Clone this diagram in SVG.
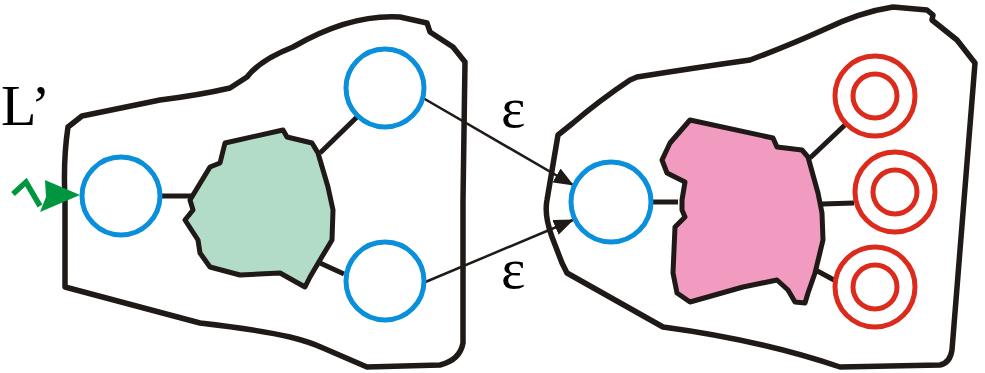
<svg xmlns="http://www.w3.org/2000/svg" width="985" height="373" viewBox="0 0 985 373">
<defs>
<style>
.outline{fill:none;stroke:#1f1a17;stroke-width:5.5;stroke-linejoin:round}
.blob{stroke:#1f1a17;stroke-width:5;stroke-linejoin:round}
.link{stroke:#1f1a17;stroke-width:5;fill:none}
.arr{stroke:#1f1a17;stroke-width:2.5;fill:none}
.blue{fill:none;stroke:#0a8fdb;stroke-width:5}
.red{fill:none;stroke:#dc2a1c;stroke-width:5}
.lbl{font-family:"Liberation Serif","Times New Roman",serif;fill:#000}
</style>
<marker id="ah" markerWidth="20" markerHeight="16" viewBox="0 0 20 16" refX="19" refY="8" orient="auto" markerUnits="userSpaceOnUse">
<path d="M0,0 L20,8 L0,16 Z" fill="#1f1a17"/>
</marker>
</defs>
<rect width="985" height="373" fill="#fff"/>
<g id="left-region">
<path class="outline" d="M82,116 L68,127 Q63,160 65,200 L65,287 L200,323 Q260,330 290,337 Q310,342 323,348 L367,367 L440,365 Q460,360 463,343 L463,200 L465,62 L453,47 L430,32 L427,23 L400,17 Q350,14 293,47 Q260,60 247,77 L230,88 Q200,95 160,100 Z"/>
</g>
<g id="right-region">
<path class="outline" d="M637,77 Q700,67 750,60 Q790,45 823,30 Q860,12 893,7 L927,10 L933,15 L932,20 L957,40 L975,63 L952,350 Q950,363 940,365 L840,367 Q760,340 663,327 L567,273 L562,263 L552,237 Q544,215 547,200 L558,135 L573,123 Q600,100 630,80 Z"/>
</g>
<g id="connectors">
<line class="link" x1="160" y1="196" x2="192" y2="196"/>
<line class="link" x1="320" y1="153" x2="357" y2="117"/>
<line class="link" x1="320" y1="263" x2="344" y2="274"/>
<line class="link" x1="651" y1="202" x2="678" y2="202"/>
<line class="link" x1="810" y1="158" x2="847" y2="123"/>
<line class="link" x1="822" y1="204" x2="854" y2="203"/>
<line class="link" x1="810" y1="267" x2="834" y2="280"/>
<line class="arr" x1="423" y1="98" x2="573" y2="185" marker-end="url(#ah)"/>
<line class="arr" x1="423" y1="283" x2="573" y2="220" marker-end="url(#ah)"/>
</g>
<g id="green-component">
<path class="blob" fill="#b2dcc8" d="M225,143 L283,130 L287,137 L312,143 L318,153 L328,187 L333,210 L332,240 L320,260 L310,277 L305,287 L280,273 L240,275 L210,267 L200,253 L198,240 L185,220 L193,210 L190,200 L210,167 L220,163 Z"/>
</g>
<g id="pink-component">
<path class="blob" fill="#f09bbf" d="M690,120 L773,138 L777,147 L802,150 L808,157 L818,193 L822,213 L823,240 L815,273 L808,293 L805,303 L795,302 L788,290 L777,280 L743,287 L690,302 L677,293 L673,273 L675,227 L685,217 L682,210 L682,200 L685,182 L667,173 L662,160 L670,143 Z"/>
</g>
<g id="n-in"><circle class="blue" cx="121" cy="196" r="39"/></g>
<g id="n-out1"><circle class="blue" cx="385" cy="88" r="39"/></g>
<g id="n-out2"><circle class="blue" cx="385" cy="281" r="39"/></g>
<g id="n-in2"><circle class="blue" cx="611" cy="202" r="40"/></g>
<g id="f1"><circle class="red" cx="875" cy="96" r="40"/><circle class="red" cx="875" cy="96" r="22"/></g>
<g id="f2"><circle class="red" cx="895" cy="192" r="40"/><circle class="red" cx="895" cy="192" r="22"/></g>
<g id="f3"><circle class="red" cx="875" cy="287" r="40"/><circle class="red" cx="875" cy="287" r="22"/></g>
<g id="input-arrow">
<path d="M13,194 L26,182 L40,206" fill="none" stroke="#009640" stroke-width="5.5"/>
<path d="M45,180 L80,195 L40,212 L46,197 Z" fill="#009640"/>
</g>
<g id="labels">
<text class="lbl" x="1" y="125" font-size="58">L’</text>
<text class="lbl" x="501" y="127" font-size="58">ε</text>
<text class="lbl" x="501" y="288" font-size="58">ε</text>
</g>
</svg>
